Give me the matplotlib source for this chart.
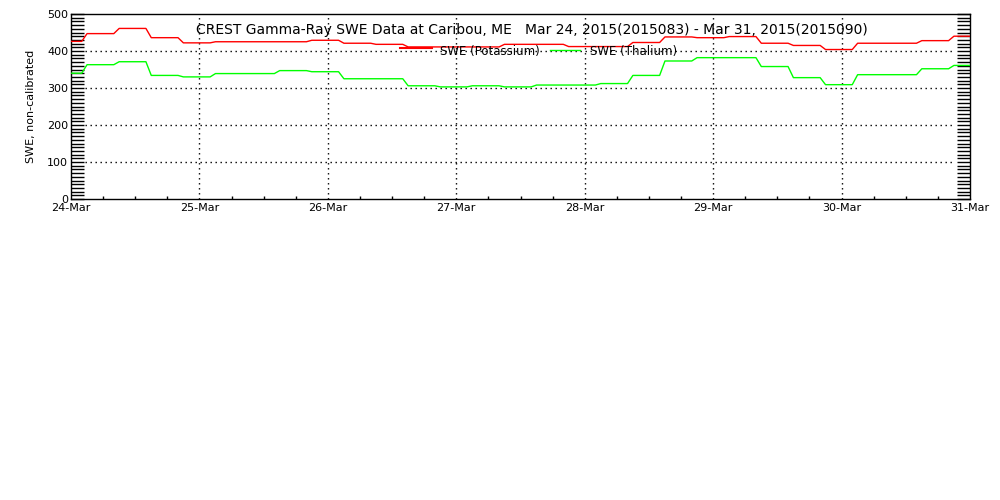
import matplotlib
matplotlib.use("Agg")
import matplotlib.pyplot as plt
import matplotlib.dates as mdates
from matplotlib.ticker import MultipleLocator
import pandas as pd

# hourly SWE readings, 24-Mar 00:00 .. 31-Mar 00:00 (one row per day)
swe_potassium = [
    426, 426, 426, 447, 447, 447, 447, 447, 447, 461, 461, 461, 461, 461, 461, 436, 436, 436, 436, 436, 436, 422, 422, 422,
    422, 422, 422, 425, 425, 425, 425, 425, 425, 425, 425, 425, 425, 425, 425, 425, 425, 425, 425, 425, 425, 429, 429, 429,
    429, 429, 429, 421, 421, 421, 421, 421, 421, 418, 418, 418, 418, 418, 418, 411, 411, 411, 411, 411, 411, 411, 411, 411,
    411, 411, 411, 411, 411, 411, 411, 411, 411, 418, 418, 418, 418, 418, 418, 418, 418, 418, 418, 418, 418, 412, 412, 412,
    412, 412, 412, 412, 412, 412, 412, 412, 412, 423, 423, 423, 423, 423, 423, 438, 438, 438, 438, 438, 438, 436, 436, 436,
    436, 436, 436, 439, 439, 439, 439, 439, 439, 421, 421, 421, 421, 421, 421, 415, 415, 415, 415, 415, 415, 404, 404, 404,
    404, 404, 404, 421, 421, 421, 421, 421, 421, 421, 421, 421, 421, 421, 421, 428, 428, 428, 428, 428, 428, 440, 440, 440,
    440,
]
swe_thalium = [
    340, 340, 340, 363, 363, 363, 363, 363, 363, 371, 371, 371, 371, 371, 371, 334, 334, 334, 334, 334, 334, 330, 330, 330,
    330, 330, 330, 339, 339, 339, 339, 339, 339, 339, 339, 339, 339, 339, 339, 347, 347, 347, 347, 347, 347, 344, 344, 344,
    344, 344, 344, 325, 325, 325, 325, 325, 325, 325, 325, 325, 325, 325, 325, 306, 306, 306, 306, 306, 306, 303, 303, 303,
    303, 303, 303, 306, 306, 306, 306, 306, 306, 303, 303, 303, 303, 303, 303, 308, 308, 308, 308, 308, 308, 308, 308, 308,
    308, 308, 308, 312, 312, 312, 312, 312, 312, 334, 334, 334, 334, 334, 334, 373, 373, 373, 373, 373, 373, 382, 382, 382,
    382, 382, 382, 382, 382, 382, 382, 382, 382, 358, 358, 358, 358, 358, 358, 328, 328, 328, 328, 328, 328, 309, 309, 309,
    309, 309, 309, 336, 336, 336, 336, 336, 336, 336, 336, 336, 336, 336, 336, 352, 352, 352, 352, 352, 352, 361, 361, 361,
    361,
]
times = pd.date_range("2015-03-24", periods=len(swe_potassium), freq="h")
grid_levels = [100, 200, 300, 400]

title = "CREST Gamma-Ray SWE Data at Caribou, ME   Mar 24, 2015(2015083) - Mar 31, 2015(2015090)"

plt.rcParams["font.family"] = ["DejaVu Sans"]
fig = plt.figure(figsize=(10, 5), dpi=100)
ax = fig.add_axes([0.071, 0.602, 0.899, 0.370])

ax.plot(times, swe_potassium, color="#ff0000", lw=1.0, zorder=3)
ax.plot(times, swe_thalium, color="#00ff00", lw=1.0, zorder=3)

ax.set_xlim(pd.Timestamp("2015-03-24"), pd.Timestamp("2015-03-31"))
ax.set_ylim(0, 500)

# dotted grid
dots = (0, (1, 2.6))
for lev in grid_levels:
    ax.axhline(lev, xmin=0.0156, xmax=0.980, color="black", lw=1, ls=dots, zorder=1)
for day in pd.date_range("2015-03-25", "2015-03-30", freq="D"):
    ax.axvline(day, color="black", lw=1, ls=dots, zorder=1)

ax.xaxis.set_major_locator(mdates.DayLocator())
ax.xaxis.set_major_formatter(mdates.DateFormatter("%d-%b"))
ax.xaxis.set_minor_locator(mdates.HourLocator(byhour=[6, 12, 18]))
ax.tick_params(axis="x", which="major", length=0, pad=3, labelsize=8)
ax.tick_params(axis="x", which="minor", direction="in", length=2.2, width=1, top=False)

ax.yaxis.set_major_locator(MultipleLocator(100))
ax.yaxis.set_minor_locator(MultipleLocator(10))
ax.tick_params(axis="y", which="both", direction="in", length=9.5, width=1,
               left=True, right=True, labelsize=8, pad=2)
ax.set_ylabel("SWE, non-calibrated", fontsize=8, labelpad=8)

for s in ax.spines.values():
    s.set_linewidth(1)

# legend drawn in axes fraction
ax.plot([0.366, 0.402], [0.815, 0.815], transform=ax.transAxes, color="#ff0000", lw=1.5, zorder=4)
ax.text(0.410, 0.800, "SWE (Potassium)", transform=ax.transAxes, fontsize=8.5, va="center", ha="left", zorder=5)
ax.plot([0.533, 0.566], [0.807, 0.807], transform=ax.transAxes, color="#00ff00", lw=1.0, zorder=4)
ax.text(0.577, 0.800, "SWE (Thalium)", transform=ax.transAxes, fontsize=8.5, va="center", ha="left", zorder=5)

fig.text(0.532, 0.94, title, fontsize=10, ha="center", va="center")

fig.savefig("out.png", dpi=100)
plt.close(fig)
